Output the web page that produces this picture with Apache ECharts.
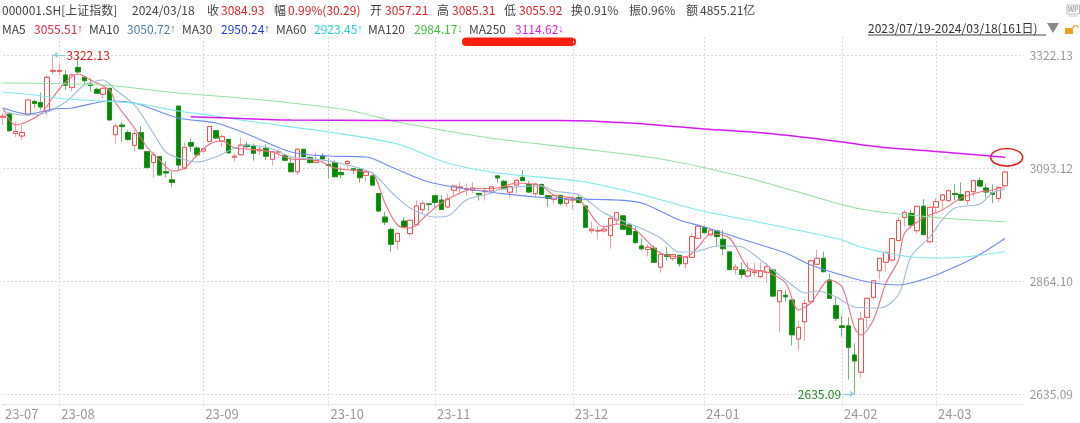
<!DOCTYPE html>
<html><head><meta charset="utf-8">
<style>html,body{margin:0;padding:0;background:#fff}#c{width:1080px;height:423px}</style>
<script src="https://cdn.jsdelivr.net/npm/echarts@6/dist/echarts.min.js"></script>
</head><body><div id="c"></div>
<script>
// [open, close, low, high], one entry per trading day
const kline=[
[3196,3198,3180,3204],[3202.5,3168.7,3167,3204],[3163,3167,3156,3187],[3158,3165,3150,3180],[3201,3231,3200,3232],
[3228,3224,3214,3231],[3225.5,3217,3211,3246],[3208,3277,3200,3280],[3289,3291,3281.5,3322.13],[3289,3291,3279.5,3305],
[3281.5,3261,3251,3292],[3256.5,3281.5,3248,3285],[3297,3288,3285,3319],[3277,3270,3261,3278],[3263,3260.5,3248,3275],
[3252.5,3244.5,3243,3256],[3242.5,3254.5,3234,3258],[3254.5,3190.5,3190,3255],[3160.5,3178,3142,3184],[3180,3177,3146.5,3187],
[3165,3151,3148.5,3170],[3139,3163,3126,3170],[3164.5,3132,3132,3178],[3126,3094,3092,3127],[3104,3119.5,3074,3126],
[3116,3079,3077,3116.5],[3085.5,3083,3074,3106],[3069,3064,3054,3085.5],[3218.5,3099,3089,3219],[3092.5,3135,3089,3144.5],
[3144.5,3137.5,3126,3153],[3133.5,3120,3116,3137.5],[3127.5,3132,3124,3133],[3147,3177,3146,3178],[3168.5,3154,3151,3170],
[3148,3156.5,3136,3160],[3151,3124,3121.5,3151.5],[3115,3117,3106,3124],[3120,3139.5,3118.5,3154.5],[3139.5,3136.5,3133,3146.5],
[3137.5,3123,3108,3143],[3128,3131,3119.5,3136.5],[3133,3117,3109,3141],[3110.5,3126,3098,3126.5],[3125,3126,3114.5,3131],
[3118.5,3109,3108,3120.5],[3102.5,3085.5,3085,3116],[3085.5,3131,3079,3133],[3131,3116,3114.5,3131.5],[3114,3104,3102.5,3117.5],
[3104.5,3108,3104,3124],[3118,3111.5,3106,3123],[3100,3098,3072,3112.5],[3104,3075.5,3073.5,3108],[3084,3079.5,3072,3094.5],
[3102,3106.5,3092.5,3109],[3091.5,3089,3081,3093.5],[3090.5,3073.5,3063,3092.5],[3078,3085,3065,3087.5],[3077,3058.5,3056.5,3079],
[3041.5,3006,3004.5,3042],[2993.5,2983.5,2977.5,3004.5],[2968.5,2938.5,2923.5,2972.5],[2944.5,2960.5,2928,2962],[2985.5,2973.5,2972,2993],
[2960,2987,2955,2987.5],[2978,3016,2975.5,3028],[3008.5,3021.5,3001,3028],[3020,3019.5,3006,3021.5],[3037,3023,3013.5,3037.5],
[3028,3009,3008,3038.5],[3014,3030,3012.5,3040.5],[3048,3056.5,3036,3058.5],[3053,3054.5,3038.5,3064],[3050,3051,3037,3062],
[3048,3052.5,3041.5,3064],[3041.5,3039,3027,3042],[3045,3046.5,3027,3054],[3046.5,3055,3041.5,3056.5],[3077,3073,3063.5,3077.5],
[3066,3051,3050,3069],[3044,3055.5,3033.5,3056],[3058.5,3068,3042,3071],[3074,3067.5,3067,3089],[3059.5,3044.5,3042,3067],
[3041,3060.5,3033.5,3063.5],[3059.5,3039.5,3038.5,3062],[3037,3031.5,3014.5,3037.5],[3029.5,3037,3020,3037.5],[3037.5,3021.5,3017,3039],
[3021.5,3029.5,3013.5,3031.5],[3028,3029.5,3009.5,3036.5],[3033,3023,3022.5,3038.5],[3016,2973,2972,3016.5],[2966,2969,2960.5,2984.5],
[2965.5,2966,2948.5,2975.5],[2965.5,2969,2962,2975.5],[2956,2991,2929.5,2996],[2987.5,3002.5,2977.5,3003],[2996,2969,2967.5,2997],
[2977.5,2958.5,2957.5,2979.5],[2964.5,2942,2939,2974],[2935,2929.5,2925,2950.5],[2928,2932.5,2913.5,2938.5],[2930.5,2902,2901,2936.5],
[2892,2918,2881,2923],[2917.5,2914,2905.5,2933.5],[2910,2917.5,2904.5,2919.5],[2916,2899,2893,2916.5],[2899,2912.5,2889,2914.5],
[2912,2954,2910,2960.5],[2950.5,2975,2949,2977.5],[2972,2962,2960.5,2977],[2957.5,2967,2954,2969],[2965.5,2954,2935,2966],
[2948.5,2929.5,2916,2967.5],[2923,2887,2886.5,2924],[2887.5,2892,2877,2898.5],[2886.5,2877.5,2869.5,2902],[2874,2884.5,2869.5,2903],
[2881,2882.5,2871.5,2901],[2873,2884.5,2869.5,2903],[2881.5,2893,2860.5,2901],[2886.5,2833.5,2832,2887],[2822,2844.5,2759.5,2846],
[2835,2832,2822,2846],[2825.5,2755,2733.5,2826],[2746.5,2770,2723,2783],[2781.5,2818.5,2742.5,2827],[2822,2905,2818.5,2906.5],
[2898,2910,2896.5,2927],[2910,2883,2881.5,2923.5],[2866,2829,2827.5,2879.5],[2814,2788.5,2783,2832],[2773,2770,2751,2793],
[2773,2729.5,2664.5,2790.5],[2714,2702,2635.09,2737.5],[2679,2787,2668.5,2802],[2790.5,2829,2768,2829.5],[2831,2864.5,2827,2865],
[2885,2910,2867.5,2910.5],[2902,2921.5,2883,2925],[2906.5,2950,2902,2950.5],[2946,2986.5,2945,2993],[2993,3003,2974,3008],
[3001,2977.5,2971,3008],[2966,3015.5,2959.5,3016],[3015.5,2958,2956.5,3030],[2943.5,3013.5,2942.5,3014],[3013.5,3025,3001,3031.5],
[3028,3038.5,3009.5,3039],[3027,3047,3025,3050],[3041.5,3039.5,3028,3060.5],[3039,3028,3026,3064],[3027,3045,3018,3046.5],
[3045,3067.5,3035,3068],[3067.5,3056.5,3055,3074],[3052.5,3044.5,3033,3062],[3042.5,3039.5,3021.5,3060],[3031.5,3054,3023.5,3055],
[3057.21,3084.93,3055.92,3085.31]];
// moving averages as [day index, value]
const ma5=[[0,3214.7],[2,3180.2],[6,3202.5],[8,3237],[10,3267.4],[12,3283.6],[14,3271.4],[17,3251.2],[18,3224.8],[21,3174.1],[23,3135.6],[25,3109.3],[27,3087],[29,3093.1],[31,3119.4],[33,3141.7],[35,3147.8],[37,3133.6],[39,3131.6],[43,3125.5],[46,3111.3],[50,3109.3],[53,3093.1],[57,3087],[59,3082.9],[61,3022.1],[63,2977.5],[65,2971.4],[68,3001.9],[70,3022.1],[73,3042.4],[75,3050.5],[79,3052.5],[82,3062.7],[86,3056.6],[88,3038.3],[92,3028.2],[96,2973.5],[98,2979.6],[101,2967.4],[105,2920.8],[109,2912.7],[111,2932.9],[113,2959.3],[116,2951.2],[119,2890.4],[122,2882.3],[125,2859.9],[127,2805.2],[129,2819.4],[132,2866],[134,2851.8],[136,2768.7],[137,2754.5],[139,2785],[141,2860],[143,2906.6],[144,2961.3],[147,2991.7],[150,3007.9],[153,3032.3],[156,3044.4],[158,3048.5],[160,3055.51]];
const ma10=[[0,3208.6],[3,3200.5],[6,3202.5],[10,3226.8],[13,3261.3],[16,3271.4],[18,3251.2],[21,3220.8],[24,3164],[26,3125.5],[28,3113.3],[31,3105.2],[34,3115.4],[37,3133.6],[39,3139.7],[43,3131.6],[46,3115.4],[51,3109.3],[55,3099.1],[59,3082.9],[62,3044.4],[65,3012],[69,2993.7],[71,2995.8],[74,3028.2],[78,3042.4],[79,3048.5],[82,3054.6],[86,3056.6],[88,3046.4],[92,3038.3],[96,3001.9],[101,2975.5],[105,2951.2],[108,2922.8],[111,2924.8],[114,2935],[116,2935],[118,2933],[121,2906.6],[123,2886.3],[126,2855.9],[128,2839.7],[130,2843.7],[133,2831.6],[136,2811.3],[140,2809.3],[143,2836],[145,2913.3],[148,2953.2],[150,2987.7],[152,3012],[156,3020.1],[158,3042.4],[160,3050.72]];
const ma30=[[0,3214.7],[4,3202.5],[8,3212.7],[11,3214.7],[17,3228.9],[21,3224.8],[28,3194.4],[34,3184.3],[39,3162],[46,3125.5],[52,3117.4],[58,3115.4],[62,3095.1],[68,3064.7],[74,3050.5],[79,3042.4],[85,3034.3],[91,3030.2],[98,3028.2],[102,3022.1],[108,2987.7],[112,2973.5],[119,2945.1],[125,2920.8],[129,2896.4],[135,2872.1],[139,2859.9],[143,2855.9],[145,2859.9],[149,2876.2],[155,2910.6],[160,2950.24]];
const ma60=[[0,3247.1],[5,3241],[10,3232.9],[16,3228.9],[22,3222.8],[28,3208.6],[34,3198.5],[39,3188.3],[52,3166],[63,3141.7],[71,3103.2],[79,3082.9],[92,3066.7],[101,3042.4],[111,3007.9],[119,2987.7],[134,2947.1],[137,2932.9],[145,2912.7],[150,2910.6],[155,2914.7],[160,2923.45]];
const ma120=[[0,3265.4],[16,3261.3],[28,3245.1],[39,3233.9],[55,3210.6],[63,3186.3],[71,3168.1],[79,3151.8],[94,3129.5],[106,3109.3],[119,3072.8],[127,3044.4],[137,3009.9],[150,2991.7],[160,2984.17]];
const ma250=[[30,3197],[36,3194.4],[46,3190.4],[75,3189.3],[89,3189.3],[100,3184.3],[112,3172.1],[121,3164.6],[129,3153.9],[134,3145.8],[140,3135.6],[150,3125.5],[160,3114.62]];
const tickIndex=[0,9,32,52,69,91,112,134,149];
const tickLabels=['23-07','23-08','23-09','23-10','23-11','23-12','24-01','24-02','24-03'];
const priceTicks=[3322.13,3093.12,2864.10,2635.09];
const highIndex=8, highValue=3322.13, lowIndex=136, lowValue=2635.09;

const row1=['000001.SH[上证指数]','2024/03/18','收','3084.93','幅','0.99%(30.29)','开','3057.21','高','3085.31','低','3055.92','换','0.91%','振','0.96%','额','4855.21亿'];
const row1X=[2,132,207,221,274,288,370,385,437,452,504,519,571,584,629,641,686,700];
const row1C=['#444','#444','#444','#e02020','#444','#e02020','#444','#e02020','#444','#e02020','#444','#e02020','#444','#444','#444','#444','#444','#444'];
const row2=['MA5','3055.51','MA10','3050.72','MA30','2950.24','MA60','2923.45','MA120','2984.17','MA250','3114.62'];
const row2X=[2,34,89,127,182,221,276,314,368,414,469,515];
const row2C=['#444','#e8263c','#444','#4a80b4','#444','#1a3cf5','#444','#1cd4e0','#444','#3cc43c','#444','#e21ee8'];
const row2Arrows=['↑','↑','↑','↑','↓','↓'];
const rangeText='2023/07/19-2024/03/18(161日)';

const FONT='"Noto Sans CJK SC","Noto Sans",sans-serif';
const categories=[];
for(let i=0;i<164;i++){const k=tickIndex.indexOf(i);categories.push(k>=0?tickLabels[k]:'#'+i);}
const isTick=i=>tickIndex.indexOf(i)>=0;
const isInnerTick=i=>i>0&&isTick(i);
const txt=(t,x,y,c)=>({type:'text',silent:true,style:{text:t,x:x,y:y,fill:c,font:'12px '+FONT,verticalAlign:'middle'}});
const graphics=[];
row1.forEach((t,i)=>graphics.push(txt(t,row1X[i],10,row1C[i])));
row2.forEach((t,i)=>graphics.push(txt(t,row2X[i],29,row2C[i])));
row2Arrows.forEach((a,k)=>graphics.push({type:'text',silent:true,style:{text:a,x:row2X[2*k+1]+46,y:29,fill:row2C[2*k+1],font:'11px "Liberation Sans"',align:'center',verticalAlign:'middle'}}));
graphics.push(txt(rangeText,868,28,'#333'));
graphics.push({type:'line',shape:{x1:868,y1:35,x2:1046,y2:35},style:{stroke:'#444',lineWidth:1}});
graphics.push({type:'polygon',shape:{points:[[1047,23],[1059,23],[1053,33]]},style:{fill:'#8a8a8a'}});
graphics.push({type:'rect',shape:{x:1065,y:28,width:8,height:6},style:{fill:'#f0a020'}});
graphics.push({type:'arc',shape:{cx:1075.5,cy:28,r:2.5,startAngle:Math.PI,endAngle:0,clockwise:true},style:{stroke:'#f0a020',fill:null,lineWidth:1.2}});
graphics.push({type:'rect',shape:{x:1067,y:5,width:12.5,height:9},style:{fill:'#fff',stroke:'#bbb',lineWidth:1}});
graphics.push({type:'text',style:{text:'WP',x:1073.2,y:9.7,fill:'#aaa',font:'bold 7px '+FONT,align:'center',verticalAlign:'middle'}});
graphics.push({type:'line',shape:{x1:1069,y1:16,x2:1078,y2:16},style:{stroke:'#ccc',lineWidth:1}});
graphics.push({type:'rect',shape:{x:462,y:37.5,width:114,height:8.5,r:4},style:{fill:'#f8200c'}});
graphics.push({type:'ellipse',shape:{cx:1006.7,cy:157.3,rx:16,ry:8.8},style:{stroke:'#e0281c',fill:null,lineWidth:1.6}});

// bodies are the same kline entries with the shadows trimmed, so the wicks can be paler than the outlines
const bodies=kline.map(d=>[d[0],d[1],Math.min(d[0],d[1]),Math.max(d[0],d[1])]);
const maLine=(name,data,color,w)=>({name,type:'line',data,symbol:'none',smooth:0.3,clip:false,silent:true,lineStyle:{width:w||1.1,color},z:3});
const option={
 animation:false,backgroundColor:'#fff',
 graphic:{elements:graphics},
 grid:{left:3,top:37,width:1020.7,bottom:19},
 xAxis:{type:'category',boundaryGap:false,data:categories,
   axisLine:{lineStyle:{color:'#e8e8e8'}},
   axisTick:{show:true,length:2,interval:i=>isTick(i),lineStyle:{color:'#ddd'}},
   axisLabel:{interval:i=>isTick(i),align:'left',margin:4,padding:[0,0,0,2],color:'#999',fontSize:13,fontFamily:FONT},
   splitLine:{show:true,interval:i=>isInnerTick(i),lineStyle:{color:'#dcdcdc',type:[2,2]}}},
 yAxis:{type:'value',position:'right',min:2614.7,max:3358.6,
   axisLine:{show:false},
   axisTick:{show:false,customValues:priceTicks},
   axisLabel:{customValues:priceTicks,formatter:v=>v.toFixed(2),margin:6,color:'#999',fontSize:12,fontFamily:FONT},
   splitLine:{show:true,lineStyle:{color:'#dcdcdc',type:[2,2]}}},
 series:[
  {type:'candlestick',data:kline,barWidth:5,clip:false,silent:true,z:2,
   itemStyle:{color:'#fff',color0:'#008a00',borderColor:'#f9a0a0',borderColor0:'#70b870',borderWidth:1},
   markPoint:{silent:true,symbol:'circle',symbolSize:0,data:[
     {coord:[highIndex+2,highValue],label:{show:true,position:'right',distance:1,formatter:highValue.toFixed(2),color:'#d82020',fontSize:12,fontFamily:FONT}},
     {coord:[lowIndex-2,lowValue],label:{show:true,position:'left',distance:1,formatter:lowValue.toFixed(2),color:'#1e8c1e',fontSize:12,fontFamily:FONT}}]},
   markLine:{silent:true,animation:false,label:{show:false},lineStyle:{color:'#8ccfe0',width:1,type:'solid'},symbolSize:5,data:[
     [{coord:[highIndex+2,highValue],symbol:'none'},{coord:[highIndex,highValue],symbol:'arrow'}],
     [{coord:[lowIndex-2,lowValue],symbol:'none'},{coord:[lowIndex,lowValue],symbol:'arrow'}]]}},
  {type:'candlestick',data:bodies,barWidth:5,clip:false,silent:true,z:2,
   itemStyle:{color:'#fff',color0:'#008a00',borderColor:'#f25050',borderColor0:'#1f921f',borderWidth:1}},
  maLine('MA5',ma5,'#f0707f'),
  maLine('MA10',ma10,'#9fbbdb'),
  maLine('MA30',ma30,'#6f8af2'),
  maLine('MA60',ma60,'#7fe6ee'),
  maLine('MA120',ma120,'#96e0a2'),
  maLine('MA250',ma250,'#d41cf0',1.5)
 ]};
echarts.init(document.getElementById('c'),null,{renderer:'canvas'}).setOption(option);
</script></body></html>
